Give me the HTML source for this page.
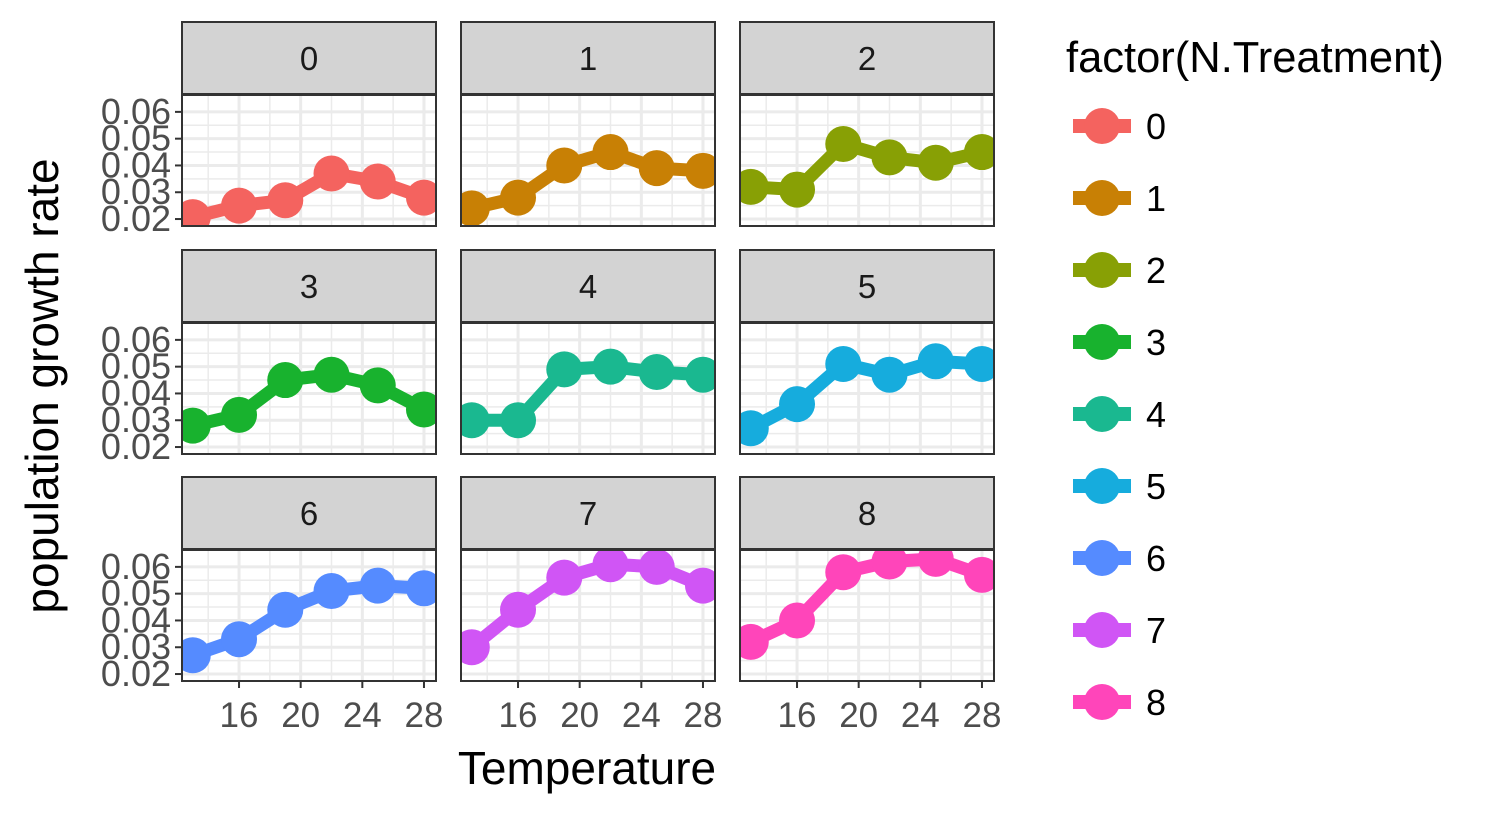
<!DOCTYPE html>
<html><head><meta charset="utf-8"><style>
body{margin:0;background:#fff;}
svg text{font-family:"Liberation Sans",Arial,sans-serif;}
</style></head><body>
<svg id="chart" width="1512" height="816" xmlns="http://www.w3.org/2000/svg"></svg>
<script>
const temps=[13,16,19,22,25,28];
const treatments=["0","1","2","3","4","5","6","7","8"];
const s0=[0.0207,0.025,0.027,0.037,0.034,0.028];
const s1=[0.024,0.028,0.040,0.045,0.039,0.038];
const s2=[0.032,0.031,0.048,0.043,0.041,0.045];
const s3=[0.028,0.032,0.045,0.047,0.043,0.034];
const s4=[0.030,0.030,0.049,0.050,0.048,0.047];
const s5=[0.027,0.036,0.051,0.047,0.052,0.051];
const s6=[0.027,0.033,0.044,0.051,0.053,0.052];
const s7=[0.030,0.044,0.056,0.061,0.060,0.053];
const s8=[0.032,0.040,0.058,0.062,0.063,0.057];
const series=[s0,s1,s2,s3,s4,s5,s6,s7,s8];
const yTicks=[0.02,0.03,0.04,0.05,0.06];
const yTickLabels=["0.02","0.03","0.04","0.05","0.06"];
const xTicks=[16,20,24,28];
const colors=["#F4635F","#C88005","#88A005","#18B22E","#1AB890","#16ACDD","#558BFF","#D055F5","#FF45BA"];

const NS="http://www.w3.org/2000/svg";
const svg=document.getElementById('chart');
function mk(tag,attrs,parent){const e=document.createElementNS(NS,tag);for(const k in attrs)e.setAttribute(k,attrs[k]);(parent||svg).appendChild(e);return e;}
const colX=[182,461,740], rowY=[22,250,477];
const PW=254, SH=72, PH=131;
const xMin=12.3,xMax=28.78,yMin=0.0174,yMax=0.0663;
const defs=mk('defs',{});
for(let i=0;i<9;i++){
  const c=i%3,r=Math.floor(i/3);
  const px=colX[c], sy=rowY[r], py=sy+SH+1;
  const sx=v=>px+(v-xMin)/(xMax-xMin)*PW;
  const syv=v=>py+PH-(v-yMin)/(yMax-yMin)*PH;
  const g=mk('g',{});
  
  
  const strip=mk('rect',{x:px,y:sy,width:PW,height:SH,fill:'#D3D3D3',stroke:'#333',"stroke-width":2},g);
  
  
  const st=mk('text',{x:px+PW/2,y:sy+48,"text-anchor":"middle","font-size":33,fill:'#1A1A1A'},g);
  st.textContent=treatments[i];
  
  
  mk('rect',{x:px,y:py,width:PW,height:PH,fill:'#fff'},g);
  for(let k=0;k<yTicks.length-1;k++){const y=syv((yTicks[k]+yTicks[k+1])/2);mk('line',{x1:px,x2:px+PW,y1:y,y2:y,stroke:'#EBEBEB',"stroke-width":1.5},g);}
  for(const v of [14,18,22,26]){const x=sx(v);mk('line',{x1:x,x2:x,y1:py,y2:py+PH,stroke:'#EBEBEB',"stroke-width":1.5},g);}
  for(const v of yTicks){const y=syv(v);mk('line',{x1:px,x2:px+PW,y1:y,y2:y,stroke:'#EBEBEB',"stroke-width":3},g);}
  for(const v of xTicks){const x=sx(v);mk('line',{x1:x,x2:x,y1:py,y2:py+PH,stroke:'#EBEBEB',"stroke-width":3},g);}
  const cp=mk('clipPath',{id:'cp'+i},defs);
  mk('rect',{x:px,y:py,width:PW,height:PH},cp);
  const dg=mk('g',{"clip-path":'url(#cp'+i+')'},g);
  const data=series[i];
  const pts=temps.map((t,j)=>sx(t)+','+syv(data[j])).join(' ');
  const pl=mk('polyline',{points:pts,fill:'none',stroke:colors[i],"stroke-width":13},dg);
  
  
  temps.forEach((t,j)=>{
    const ci=mk('circle',{cx:sx(t),cy:syv(data[j]),r:18,fill:colors[i]},dg);
    
    
  });
  mk('rect',{x:px,y:py,width:PW,height:PH,fill:'none',stroke:'#333',"stroke-width":2},g);
  if(c===0){
    yTicks.forEach((v,k)=>{const y=syv(v);
      mk('line',{x1:px-7,x2:px,y1:y,y2:y,stroke:'#333',"stroke-width":2},g);
      const t=mk('text',{x:px-11,y:y+12,"text-anchor":"end","font-size":36,fill:'#4D4D4D'},g);
      t.textContent=yTickLabels[k];
      
      
    });
  }
  if(r===2){
    xTicks.forEach(v=>{const x=sx(v);
      mk('line',{x1:x,x2:x,y1:py+PH,y2:py+PH+7,stroke:'#333',"stroke-width":2},g);
      const t=mk('text',{x:x,y:py+PH+46,"text-anchor":"middle","font-size":35,fill:'#4D4D4D'},g);
      t.textContent=v;
      
      
    });
  }
}
const xt=mk('text',{x:587,y:784,"text-anchor":"middle","font-size":46,fill:'#000'});
xt.textContent='Temperature';


const yt=mk('text',{x:58,y:386,"text-anchor":"middle","font-size":46,fill:'#000',transform:'rotate(-90 58 386)'});
yt.textContent='population growth rate';


const lt=mk('text',{x:1066,y:72,"font-size":43.5,fill:'#000'});
lt.textContent='factor(N.Treatment)';


treatments.forEach((tr,i)=>{
  const y=126+i*72;
  const lg=mk('g',{});
  
  
  mk('line',{x1:1073,x2:1131,y1:y,y2:y,stroke:colors[i],"stroke-width":14},lg);
  mk('circle',{cx:1102,cy:y,r:18,fill:colors[i]},lg);
  const t=mk('text',{x:1146,y:y+13,"font-size":36,fill:'#000'},lg);
  t.textContent=tr;
});
</script>
</body></html>
